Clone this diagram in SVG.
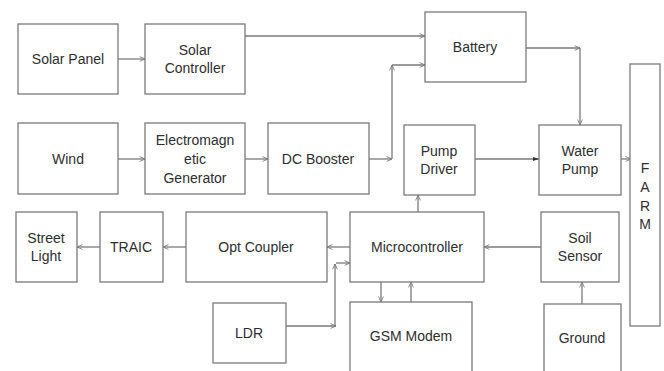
<svg xmlns="http://www.w3.org/2000/svg" width="664" height="371" viewBox="0 0 664 371">
<defs>
<marker id="a" viewBox="0 0 10 10" refX="10" refY="5" markerWidth="6" markerHeight="6" orient="auto" markerUnits="userSpaceOnUse">
<path d="M1,1 L10,5 L1,9" fill="none" stroke="#777" stroke-width="1.4"/>
</marker>
<marker id="f" viewBox="0 0 10 10" refX="10" refY="5" markerWidth="6" markerHeight="6" orient="auto" markerUnits="userSpaceOnUse">
<path d="M0,1.5 L10,5 L0,8.5 Z" fill="#333"/>
</marker>
</defs>
<style>
.b{fill:#fff;stroke:#7a7a7a;stroke-width:1.3}
.t{font-family:"Liberation Sans",Arial,sans-serif;font-size:14px;fill:#2e2e2e;text-anchor:middle}
.c{fill:none;stroke:#7a7a7a;stroke-width:1.3}
</style>
<rect width="664" height="371" fill="#fff"/>
<g id="connectors">
<path class="c" d="M118,59 H145" marker-end="url(#a)"/>
<path class="c" d="M245,36 H425" marker-end="url(#a)"/>
<path class="c" d="M118,159 H145" marker-end="url(#a)"/>
<path class="c" d="M245,159 H268" marker-end="url(#a)"/>
<path class="c" d="M369,159 H392" marker-end="url(#a)"/>
<path class="c" d="M392,159 V65" marker-end="url(#a)"/>
<path class="c" d="M392,65 H425" marker-end="url(#a)"/>
<path class="c" d="M526,48 H580" marker-end="url(#a)"/>
<path class="c" d="M580,48 V125" marker-end="url(#a)"/>
<path class="c" d="M475,159 H539" stroke="#555" marker-end="url(#f)"/>
<path class="c" d="M621,159 H631" marker-end="url(#a)"/>
<path class="c" d="M418,212 V195" marker-end="url(#a)"/>
<path class="c" d="M350,247 H327" marker-end="url(#a)"/>
<path class="c" d="M186,247 H163" marker-end="url(#a)"/>
<path class="c" d="M100,247 H77" marker-end="url(#a)"/>
<path class="c" d="M541,247 H484" marker-end="url(#a)"/>
<path class="c" d="M286,326 H336" marker-end="url(#a)"/>
<path class="c" d="M335,326 V264" marker-end="url(#a)"/>
<path class="c" d="M336,263 H350" marker-end="url(#a)"/>
<path class="c" d="M381,282 V302" marker-end="url(#a)"/>
<path class="c" d="M411,302 V282" marker-end="url(#a)"/>
<path class="c" d="M582,304 V282" marker-end="url(#a)"/>
</g>
<g id="solar-panel"><rect class="b" x="18" y="24" width="100" height="70"/><text class="t" x="68" y="64">Solar Panel</text></g>
<g id="solar-controller"><rect class="b" x="145" y="24" width="100" height="70"/><text class="t" x="195" y="55">Solar</text><text class="t" x="195" y="73">Controller</text></g>
<g id="battery"><rect class="b" x="425" y="12" width="101" height="70"/><text class="t" x="475" y="52">Battery</text></g>
<g id="wind"><rect class="b" x="18" y="123" width="100" height="71"/><text class="t" x="68" y="164">Wind</text></g>
<g id="generator"><rect class="b" x="145" y="123" width="100" height="71"/><text class="t" x="195" y="145">Electromagn</text><text class="t" x="195" y="164">etic</text><text class="t" x="195" y="183">Generator</text></g>
<g id="dc-booster"><rect class="b" x="268" y="123" width="101" height="71"/><text class="t" x="318" y="164">DC Booster</text></g>
<g id="pump-driver"><rect class="b" x="404" y="125" width="71" height="70"/><text class="t" x="439" y="156">Pump</text><text class="t" x="439" y="174">Driver</text></g>
<g id="water-pump"><rect class="b" x="539" y="125" width="82" height="70"/><text class="t" x="580" y="156">Water</text><text class="t" x="580" y="174">Pump</text></g>
<g id="farm"><rect class="b" x="630" y="64" width="30" height="262"/><text class="t" x="645" y="173">F</text><text class="t" x="645" y="192">A</text><text class="t" x="645" y="211">R</text><text class="t" x="645" y="229">M</text></g>
<g id="street-light"><rect class="b" x="16" y="212" width="61" height="70"/><text class="t" x="46" y="243">Street</text><text class="t" x="46" y="261">Light</text></g>
<g id="traic"><rect class="b" x="100" y="212" width="63" height="70"/><text class="t" x="131" y="252">TRAIC</text></g>
<g id="opt-coupler"><rect class="b" x="186" y="212" width="141" height="70"/><text class="t" x="256" y="252">Opt Coupler</text></g>
<g id="microcontroller"><rect class="b" x="350" y="212" width="134" height="70"/><text class="t" x="417" y="252">Microcontroller</text></g>
<g id="soil-sensor"><rect class="b" x="541" y="212" width="78" height="70"/><text class="t" x="580" y="243">Soil</text><text class="t" x="580" y="261">Sensor</text></g>
<g id="ldr"><rect class="b" x="213" y="303" width="73" height="60"/><text class="t" x="249" y="338">LDR</text></g>
<g id="gsm-modem"><rect class="b" x="350" y="302" width="122" height="72"/><text class="t" x="411" y="341">GSM Modem</text></g>
<g id="ground"><rect class="b" x="544" y="304" width="77" height="70"/><text class="t" x="582" y="343">Ground</text></g>
</svg>
